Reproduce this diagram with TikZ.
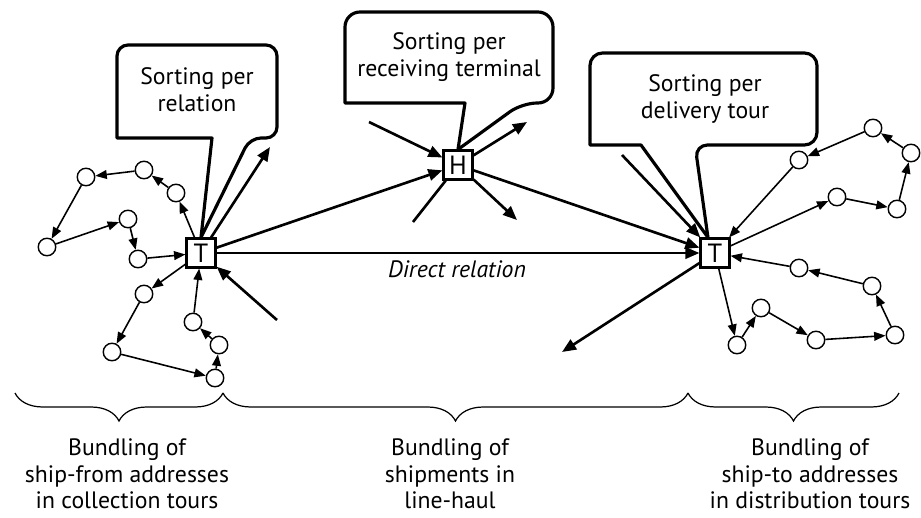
\documentclass[tikz,border=0pt]{standalone}
\usepackage{fontspec}
\setmainfont{PT Sans}
\usetikzlibrary{arrows.meta,decorations.pathreplacing}

\begin{document}
\begin{tikzpicture}[x=0.02cm,y=-0.02cm,
	terminal/.style={draw,line width=1.2pt,minimum size=0.58cm,inner sep=0,font=\fontsize{15}{17}\selectfont},
	address/.style={draw,circle,line width=0.8pt,minimum size=0.35cm,inner sep=0},
	haulage/.style={line width=1.5pt,-{Triangle[length=8pt,width=6.5pt]}},
	link/.style={line width=1.5pt},
	tourleg/.style={line width=0.9pt,-{Triangle[length=6.5pt,width=5pt]}},
	bubble/.style={line width=1.8pt,line join=round},
	caption/.style={align=center,font=\fontsize{13.5}{15.2}\selectfont},
	bracket/.style={decorate,decoration={brace,mirror,amplitude=0.56cm},line width=0.7pt}]
	\useasboundingbox (0,0) rectangle (921,518);
	\node[terminal] (tL) at (201,253) {T};
	\node[terminal] (hub) at (458,165) {H};
	\node[terminal] (tR) at (715,253) {T};
	\node[address] (a1) at (86,177) {};
	\node[address] (a2) at (144,170) {};
	\node[address] (a3) at (176,193) {};
	\node[address] (a4) at (47,247) {};
	\node[address] (a5) at (128,219) {};
	\node[address] (a6) at (138,259) {};
	\node[address] (a7) at (144,294) {};
	\node[address] (a8) at (112,352) {};
	\node[address] (a9) at (215,378) {};
	\node[address] (a10) at (219,345) {};
	\node[address] (a11) at (193,322) {};
	\node[address] (d1) at (799,160) {};
	\node[address] (d2) at (873,128) {};
	\node[address] (d3) at (911,153) {};
	\node[address] (d4) at (837,197) {};
	\node[address] (d5) at (897,209) {};
	\node[address] (d6) at (799,268) {};
	\node[address] (d7) at (872,286) {};
	\node[address] (d8) at (895,335) {};
	\node[address] (d9) at (816,340) {};
	\node[address] (d10) at (761,308) {};
	\node[address] (d11) at (737,345) {};
	\coordinate (lA) at (270,147);
	\coordinate (lB) at (277,320);
	\coordinate (hA) at (369,122);
	\coordinate (hB) at (413,222);
	\coordinate (hC) at (527,122);
	\coordinate (hD) at (517,220);
	\coordinate (rA) at (622,155);
	\coordinate (rB) at (562,352);
	\draw[bubble] (tL.north) -- (212,138) -- (117,138) [rounded corners=0.22cm] -- (117,45) -- (277,45) -- (277,138) -- (250,138) [sharp corners] -- cycle;
	\draw[bubble] (hub.north) -- (465,103) -- (345,103) [rounded corners=0.3cm] -- (345,12) -- (553,12) -- (553,103) -- (522,103) [sharp corners] -- cycle;
	\draw[bubble] ([xshift=-4pt]tR.north) -- (641,145) -- (590,145) [rounded corners=0.25cm] -- (590,53) -- (817,53) -- (817,145) -- (695,145) [sharp corners] -- cycle;
	\node[caption] (s1) at (197,90) {Sorting per\\relation};
	\node[caption] (s2) at (449,57) {Sorting per\\receiving terminal};
	\node[caption] (s3) at (705,99) {Sorting per\\delivery tour};
	\draw[haulage] (tL) -- (lA);
	\draw[haulage] (lB) -- (tL);
	\draw[haulage] (tL) -- (hub);
	\draw[haulage] (tL) -- (tR);
	\draw[haulage] (hA) -- (hub);
	\draw[link] (hB) -- (hub);
	\draw[haulage] (hub) -- (hC);
	\draw[haulage] (hub) -- (hD);
	\draw[haulage] (hub) -- (tR);
	\draw[haulage] (rA) -- (tR);
	\draw[haulage] (tR) -- (rB);
	\node[caption] (direct) at (457,269) {\itshape Direct relation};
	\draw[tourleg] (tL) -- (a3);
	\draw[tourleg] (a3) -- (a2);
	\draw[tourleg] (a2) -- (a1);
	\draw[tourleg] (a1) -- (a4);
	\draw[tourleg] (a4) -- (a5);
	\draw[tourleg] (a5) -- (a6);
	\draw[tourleg] (a6) -- (tL);
	\draw[tourleg] (tL) -- (a7);
	\draw[tourleg] (a7) -- (a8);
	\draw[tourleg] (a8) -- (a9);
	\draw[tourleg] (a9) -- (a10);
	\draw[tourleg] (a10) -- (a11);
	\draw[tourleg] (a11) -- (tL);
	\draw[tourleg] (tR) -- (d4);
	\draw[tourleg] (d4) -- (d5);
	\draw[tourleg] (d5) -- (d3);
	\draw[tourleg] (d3) -- (d2);
	\draw[tourleg] (d2) -- (d1);
	\draw[tourleg] (d1) -- (tR);
	\draw[tourleg] (tR) -- (d11);
	\draw[tourleg] (d11) -- (d10);
	\draw[tourleg] (d10) -- (d9);
	\draw[tourleg] (d9) -- (d8);
	\draw[tourleg] (d8) -- (d7);
	\draw[tourleg] (d7) -- (d6);
	\draw[tourleg] (d6) -- (tR);
	\coordinate (b0) at (15,393);
	\coordinate (b1) at (223,393);
	\coordinate (b2) at (688,393);
	\coordinate (b3) at (899,393);
	\draw[bracket] (b0) -- (b1);
	\draw[bracket] (b1) -- (b2);
	\draw[bracket] (b2) -- (b3);
	\node[caption] (g1) at (127,474) {Bundling of\\ship-from addresses\\in collection tours};
	\node[caption] (g2) at (450,474) {Bundling of\\shipments in\\line-haul};
	\node[caption] (g3) at (810,474) {Bundling of\\ship-to addresses\\in distribution tours};
\end{tikzpicture}
\end{document}
